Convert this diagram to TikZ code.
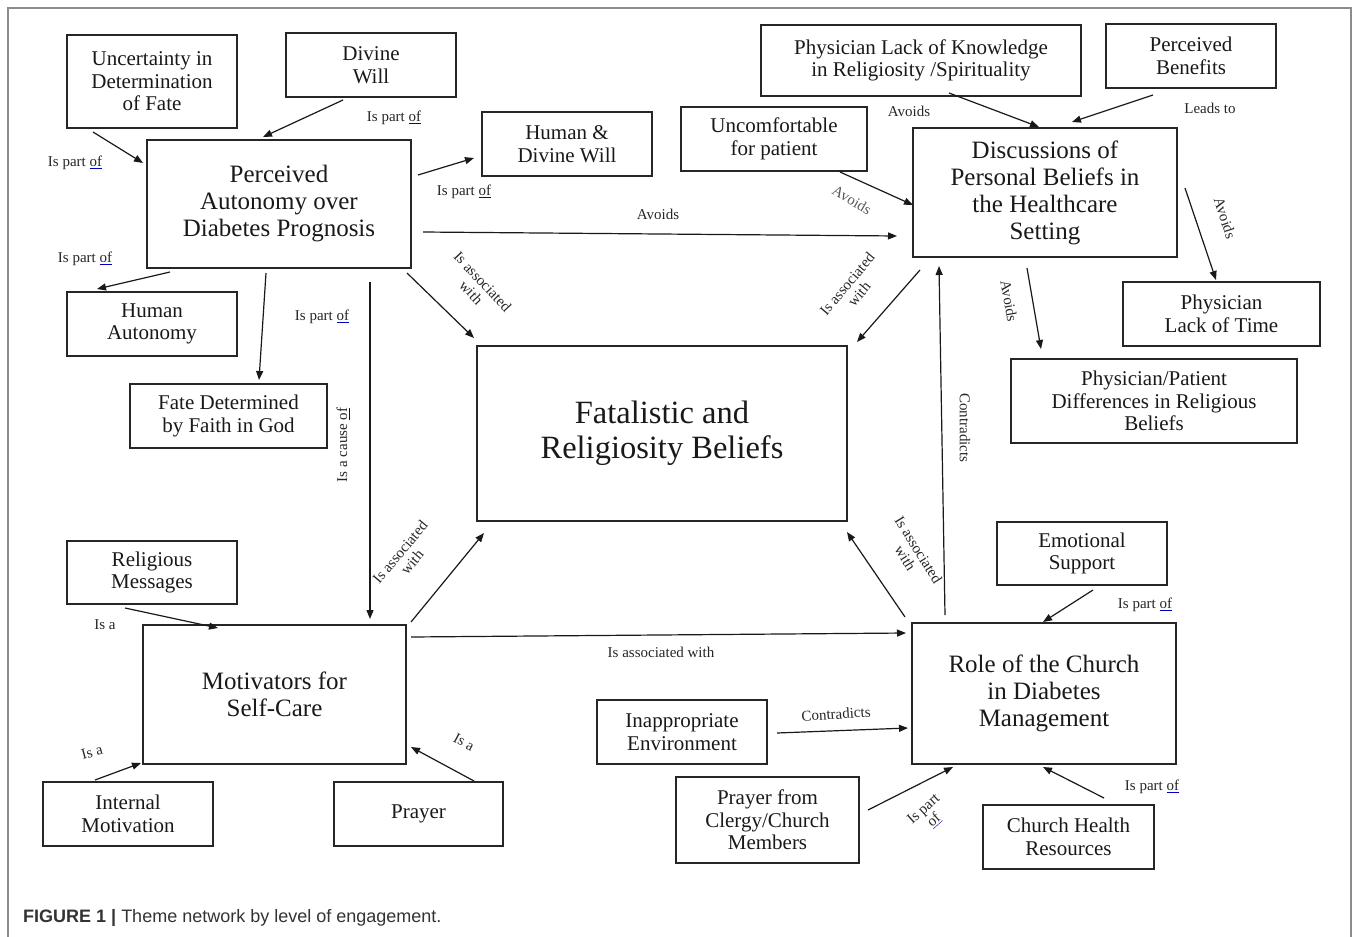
\documentclass[tikz,border=0pt]{standalone}
\usepackage{fontspec}
\setmainfont{Liberation Serif}
\newfontfamily\capfont{Liberation Sans}
\usetikzlibrary{arrows.meta}
\newcommand{\sqof}{{\color{blue!75!black}\underline{\color{black!85}of}}}
\tikzset{
 box/.style={draw=black!85, line width=1.3pt, inner sep=0pt, align=center, text=black!90},
 bigtxt/.style={font=\fontsize{25}{27}\selectfont},
 medtxt/.style={font=\fontsize{21}{22.5}\selectfont},
 fattxt/.style={font=\fontsize{32.5}{35}\selectfont},
 lab/.style={font=\fontsize{15}{15.5}\selectfont, inner sep=0pt, align=center, text=black!85},
 arr/.style={draw=black!90, line width=1.2pt, -{Triangle[length=9pt,width=7pt]}},
}
\begin{document}
\begin{tikzpicture}[x=1pt,y=1pt]
\path[use as bounding box] (0,0) rectangle (1358,-937);
\draw[black!45, line width=1.5pt] (8,-945) -- (8,-8) -- (1351,-8) -- (1351,-945);

% boxes
\node[box,medtxt,minimum width=170pt,minimum height=93pt] (unc) at (152,-81.5) {Uncertainty in\\Determination\\of Fate};
\node[box,medtxt,minimum width=170pt,minimum height=64pt] (div) at (371,-65) {Divine\\Will};
\node[box,bigtxt,minimum width=264pt,minimum height=128pt] (pad) at (279,-204) {Perceived\\Autonomy over\\Diabetes Prognosis};
\node[box,medtxt,minimum width=170pt,minimum height=64pt] (hdw) at (567,-144) {Human \&\\Divine Will};
\node[box,medtxt,minimum width=186pt,minimum height=64pt] (unf) at (774,-139) {Uncomfortable\\for patient};
\node[box,medtxt,minimum width=320pt,minimum height=71pt] (plk) at (921,-60.5) {Physician Lack of Knowledge\\in Religiosity /Spirituality};
\node[box,medtxt,minimum width=170pt,minimum height=64pt] (pbn) at (1191,-56) {Perceived\\Benefits};
\node[box,bigtxt,minimum width=264pt,minimum height=129pt] (dis) at (1045,-192.5) {Discussions of\\Personal Beliefs in\\the Healthcare\\Setting};
\node[box,medtxt,minimum width=197pt,minimum height=64pt] (plt) at (1221.5,-314) {Physician\\Lack of Time};
\node[box,medtxt,minimum width=286pt,minimum height=84pt] (ppd) at (1154,-401) {Physician/Patient\\Differences in Religious\\Beliefs};
\node[box,medtxt,minimum width=170pt,minimum height=64pt] (hau) at (152,-324) {Human\\Autonomy};
\node[box,medtxt,minimum width=197pt,minimum height=64pt] (fdf) at (228.5,-416) {Fate Determined\\by Faith in God};
\node[box,fattxt,minimum width=370pt,minimum height=175pt] (fat) at (662,-433.5) {Fatalistic and\\Religiosity Beliefs};
\node[box,medtxt,minimum width=170pt,minimum height=63pt] (rlm) at (152,-572.5) {Religious\\Messages};
\node[box,bigtxt,minimum width=263pt,minimum height=139pt] (mot) at (274.5,-694.5) {Motivators for\\Self-Care};
\node[box,medtxt,minimum width=170pt,minimum height=64pt] (inm) at (128,-814) {Internal\\Motivation};
\node[box,medtxt,minimum width=169pt,minimum height=64pt] (pry) at (418.5,-814) {Prayer};
\node[box,medtxt,minimum width=170pt,minimum height=63pt] (emo) at (1082,-553.5) {Emotional\\Support};
\node[box,bigtxt,minimum width=264pt,minimum height=141pt] (rol) at (1044,-693.5) {Role of the Church\\in Diabetes\\Management};
\node[box,medtxt,minimum width=170pt,minimum height=64pt] (ina) at (682,-732) {Inappropriate\\Environment};
\node[box,medtxt,minimum width=183pt,minimum height=86pt] (pcc) at (767.5,-820) {Prayer from\\Clergy/Church\\Members};
\node[box,medtxt,minimum width=171pt,minimum height=64pt] (chr) at (1068.5,-837) {Church Health\\Resources};

% arrows
\draw[arr] ([shift={(-59,-50.5)}]unc.center) -- ([shift={(-136,41)}]pad.center);
\draw[arr] ([shift={(-28,-35)}]div.center) -- ([shift={(-16,67)}]pad.center);
\draw[arr] ([shift={(139,29)}]pad.center) -- ([shift={(-93,-14)}]hdw.center);
\draw[arr] ([shift={(-109,-68)}]pad.center) -- ([shift={(-55,35)}]hau.center);
\draw[arr] ([shift={(-13,-69)}]pad.center) -- ([shift={(30.5,36)}]fdf.center);
\draw[arr] ([shift={(91,-78)}]pad.center) -- ([shift={(95.5,75.5)}]mot.center);
\draw[arr] ([shift={(128,-69)}]pad.center) -- ([shift={(-188,95.5)}]fat.center);
\draw[arr] ([shift={(144,-28)}]pad.center) -- ([shift={(-148,-43.5)}]dis.center);
\draw[arr] ([shift={(66,-33)}]unf.center) -- ([shift={(-132,-12.5)}]dis.center);
\draw[arr] ([shift={(28,-32.5)}]plk.center) -- ([shift={(-6,65.5)}]dis.center);
\draw[arr] ([shift={(-38,-39)}]pbn.center) -- ([shift={(27,70.5)}]dis.center);
\draw[arr] ([shift={(140,4.5)}]dis.center) -- ([shift={(-5.5,34)}]plt.center);
\draw[arr] ([shift={(-18,-75.5)}]dis.center) -- ([shift={(-113,52)}]ppd.center);
\draw[arr] ([shift={(-125,-77.5)}]dis.center) -- ([shift={(195,91.5)}]fat.center);
\draw[arr] ([shift={(-99,78.5)}]rol.center) -- ([shift={(-106,-73.5)}]dis.center);
\draw[arr] ([shift={(-139,76.5)}]rol.center) -- ([shift={(185,-98.5)}]fat.center);
\draw[arr] ([shift={(136.5,72.5)}]mot.center) -- ([shift={(-178,-99.5)}]fat.center);
\draw[arr] ([shift={(136.5,57.5)}]mot.center) -- ([shift={(-138,60.5)}]rol.center);
\draw[arr] ([shift={(-27,-35.5)}]rlm.center) -- ([shift={(-56.5,66.5)}]mot.center);
\draw[arr] ([shift={(-33,34)}]inm.center) -- ([shift={(-133.5,-68.5)}]mot.center);
\draw[arr] ([shift={(55.5,33)}]pry.center) -- ([shift={(136.5,-52.5)}]mot.center);
\draw[arr] ([shift={(11,-36.5)}]emo.center) -- ([shift={(-1,71.5)}]rol.center);
\draw[arr] ([shift={(95,-1)}]ina.center) -- ([shift={(-136,-34.5)}]rol.center);
\draw[arr] ([shift={(100.5,10)}]pcc.center) -- ([shift={(-91,-73.5)}]rol.center);
\draw[arr] ([shift={(35.5,39)}]chr.center) -- ([shift={(-1,-73.5)}]rol.center);

% labels
\node[lab] (l1) at (75,-163) {Is part \sqof};
\node[lab] (l2) at (394,-118) {Is part \sqof};
\node[lab] (l3) at (464,-192) {Is part \sqof};
\node[lab] (l4) at (85,-259) {Is part \sqof};
\node[lab] (l5) at (322,-317) {Is part \sqof};
\node[lab,rotate=90] (l6) at (343,-445) {Is a cause \sqof};
\node[lab,rotate=-47] (l7) at (477,-287) {Is associated\\with};
\node[lab] (l8) at (658,-214) {Avoids};
\node[lab,rotate=-30,text=black!65] (l9) at (852,-200) {Avoids};
\node[lab] (l10) at (909,-111) {Avoids};
\node[lab] (l11) at (1210,-108) {Leads to};
\node[lab,rotate=-72] (l12) at (1225,-218) {Avoids};
\node[lab,rotate=-80] (l13) at (1009,-301) {Avoids};
\node[lab,rotate=50] (l14) at (853,-289) {Is associated\\with};
\node[lab,rotate=-90] (l15) at (965,-428) {Contradicts};
\node[lab,rotate=-58] (l16) at (912,-554) {Is associated\\with};
\node[lab,rotate=50] (l17) at (406,-557) {Is associated\\with};
\node[lab] (l18) at (661,-652) {Is associated with};
\node[lab] (l19) at (105,-625) {Is a};
\node[lab,rotate=15] (l20) at (92,-752) {Is a};
\node[lab,rotate=-28] (l21) at (464,-742) {Is a};
\node[lab] (l22) at (1145,-605) {Is part \sqof};
\node[lab,rotate=4] (l23) at (836,-714) {Contradicts};
\node[lab,rotate=42] (l24) at (929,-815) {Is part\\\sqof};
\node[lab] (l25) at (1152,-787) {Is part \sqof};

% caption
\node[anchor=west, inner sep=0pt, font=\capfont\fontsize{18}{20}\selectfont, text=black!80] (cap) at (23,-918) {\textbf{FIGURE 1 |} Theme network by level of engagement.};
\end{tikzpicture}
\end{document}
